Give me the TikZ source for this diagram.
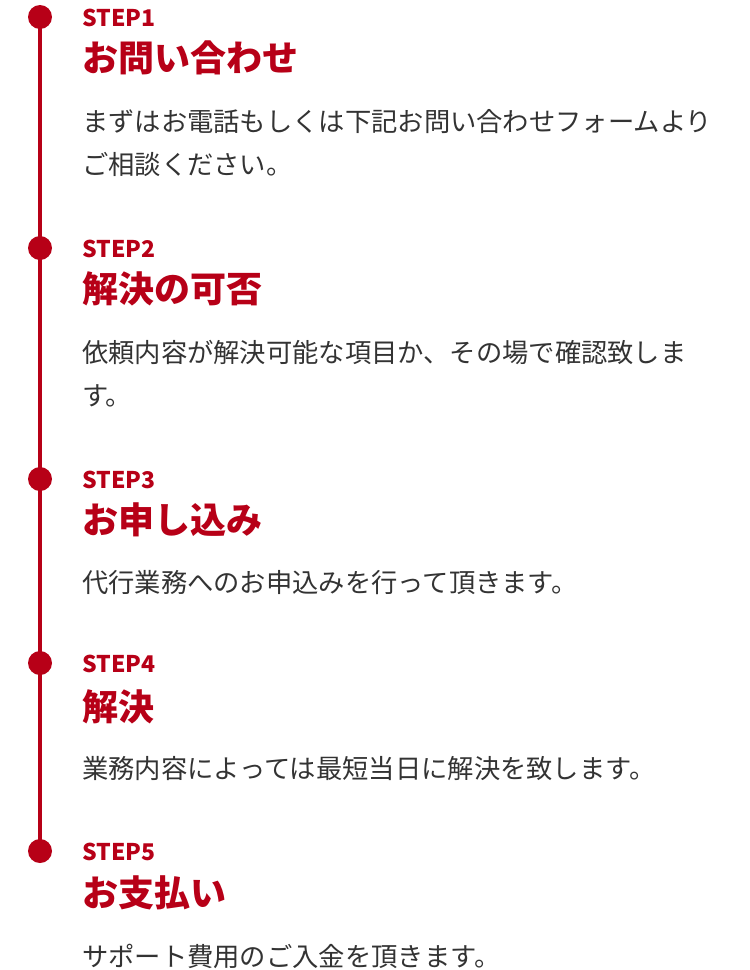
\documentclass[tikz,border=0pt]{standalone}
\usepackage{fontspec}
\usepackage{tikz}
\newfontfamily\jpfont{Noto Sans CJK JP}
\definecolor{stepred}{HTML}{B70017}
\definecolor{bodygray}{HTML}{333333}

\begin{document}
\begin{tikzpicture}[x=1pt,y=-1pt,
    dot/.style={circle,fill=stepred,inner sep=0pt,minimum size=24pt},
    timeline/.style={stepred,line width=4pt},
    steplabel/.style={anchor=base west,inner sep=0pt,text=stepred,font={\jpfont\bfseries\fontsize{23}{26}\selectfont}},
    steptitle/.style={anchor=base west,inner sep=0pt,text=stepred,font={\jpfont\bfseries\fontsize{36}{40}\selectfont}},
    stepbody/.style={anchor=base west,inner sep=0pt,align=left,text=bodygray,font={\jpfont\fontsize{26.3}{43}\selectfont}}]
    \useasboundingbox (0,0) rectangle (750,970);
    \node[dot] (d1) at (40,17) {};
    \node[dot] (d2) at (40,248) {};
    \node[dot] (d3) at (40,479) {};
    \node[dot] (d4) at (40,663) {};
    \node[dot] (d5) at (40,851) {};
    \draw[timeline] (d1.center) -- (d5.center);

    \node[steplabel] (s1) at (82,26) {STEP1};
    \node[steptitle] (t1) at (82,71) {お問い合わせ};
    \node[stepbody] (b1) at (82,174) {まずはお電話もしくは下記お問い合わせフォームより\\ご相談ください。};

    \node[steplabel] (s2) at (82,257) {STEP2};
    \node[steptitle] (t2) at (82,302) {解決の可否};
    \node[stepbody] (b2) at (82,405) {依頼内容が解決可能な項目か、その場で確認致しま\\す。};

    \node[steplabel] (s3) at (82,488) {STEP3};
    \node[steptitle] (t3) at (82,533) {お申し込み};
    \node[stepbody] (b3) at (82,592) {代行業務へのお申込みを行って頂きます。};

    \node[steplabel] (s4) at (82,672) {STEP4};
    \node[steptitle] (t4) at (82,720) {解決};
    \node[stepbody] (b4) at (82,778) {業務内容によっては最短当日に解決を致します。};

    \node[steplabel] (s5) at (82,860) {STEP5};
    \node[steptitle] (t5) at (82,906) {お支払い};
    \node[stepbody] (b5) at (82,966) {サポート費用のご入金を頂きます。};
\end{tikzpicture}
\end{document}
